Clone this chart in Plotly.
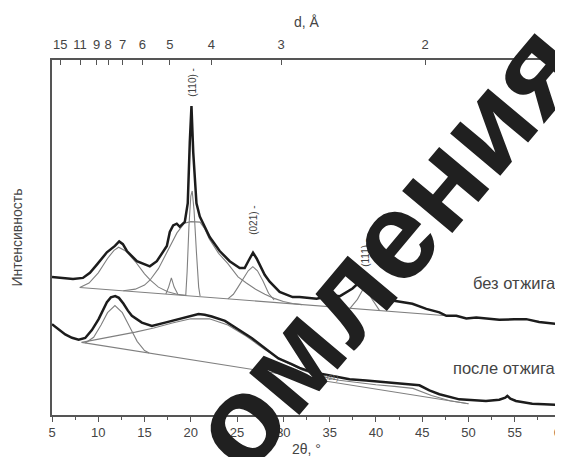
import math
import plotly.graph_objects as go

# ---------------- data (2θ in degrees, intensity in arbitrary units) ----------------
# measured pattern, sample without annealing ("без отжига")
theta_raw = [5.0, 5.86, 7.27, 8.34, 9.10, 9.85, 10.93, 11.80, 12.26, 12.66, 13.09, 14.17,
             15.25, 15.57, 16.33, 16.98, 17.41, 17.73, 18.09, 18.48, 18.81, 19.35, 19.67,
             19.89, 20.07, 20.26, 20.61, 20.97, 21.32, 22.04, 23.12, 24.20, 25.28, 25.82,
             26.25, 26.72, 27.11, 27.44, 27.98, 28.52, 29.60, 31.0, 31.75, 33.59, 35.31,
             36.07, 37.47, 38.23, 38.77, 39.20, 39.63, 40.71, 41.79, 43.94, 45.45, 46.86,
             47.61, 48.69, 49.77, 50.85, 53.33, 54.95, 56.24, 57.64, 58.72, 59.80]
int_raw = [135, 134, 133, 134, 139, 147, 159, 165.3, 169.7, 167, 160.3, 150.3,
           146.3, 145.3, 150.3, 159, 165.3, 179, 185.3, 187, 184, 188.7, 207,
           267, 302, 257, 207, 194, 187, 174, 160.3, 150.3, 143.7, 143.7,
           151, 158.7, 153, 147, 137, 130.3, 120.3, 115.3, 115.3, 113.7, 117,
           116, 123.7, 130, 133.7, 127, 122, 115.3, 112, 108.7, 103.7, 100.3,
           97, 97, 94.3, 95.3, 93, 93.5, 93.7, 91, 90, 88.7]

# measured pattern, sample after annealing ("после отжига")
theta_ann = [5.0, 5.65, 6.43, 7.16, 7.88, 8.59, 9.31, 10.04, 10.50, 10.93, 11.36, 11.83,
             12.23, 12.73, 13.20, 13.63, 14.71, 15.79, 17.22, 18.67, 20.10, 20.83, 21.50,
             22.26, 23.69, 25.14, 26.57, 28.01, 29.46, 30.89, 31.75, 33.05, 35.31, 37.15,
             38.95, 40.92, 42.54, 44.70, 45.78, 46.86, 49.01, 51.89, 53.33, 53.98, 54.20,
             54.53, 55.13, 56.89, 58.18, 59.80]
int_ann = [88.7, 84, 78.7, 75.5, 73.7, 75.3, 83, 93.7, 103, 110.3, 115, 116.3,
           114.5, 108.7, 102, 97, 90.3, 87, 90.3, 93.7, 97, 98.7, 98,
           96.3, 92, 83.7, 75.3, 65.3, 55.3, 49.7, 46, 42, 38, 35,
           33.7, 32, 31, 29, 24, 20.3, 15.3, 13.7, 15, 17, 18.7,
           16, 13.7, 11, 10.5, 10]

# fitted components, sample without annealing
base_raw_theta = [8.0, 48.0]
base_raw_int = [124.7, 96.7]
peak_a_theta = [8.0, 9.0, 10.0, 11.0, 11.7, 12.2, 13.0, 14.0, 15.0, 15.6, 16.5, 17.5, 18.5, 19.5]
peak_a_int = [124.7, 129, 139, 153, 161, 164, 160, 150, 138, 132, 125, 120.5, 118, 116.9]
halo_b_theta = [12.7, 14.0, 15.0, 15.6, 16.5, 17.5, 18.5, 19.3, 20.0, 21.0, 21.5, 22.0, 23.0,
                24.0, 25.1, 26.0, 27.0, 28.0, 29.0, 30.0, 31.0, 32.0]
halo_b_int = [121.4, 123, 127, 132, 143, 160, 178, 187.5, 189, 188.5, 182, 172, 158,
              148, 135, 129, 123, 118, 114, 111, 109, 107.9]
peak_c_theta = [24.0, 24.6, 25.1, 25.7, 26.2, 26.7, 27.2, 27.8, 28.4, 29.0]
peak_c_int = [113.5, 118, 125, 134, 141, 145, 141, 131, 119, 112.4]
peak_d_theta = [17.3, 17.6, 17.9, 18.2, 18.6]
peak_d_int = [118.3, 125, 134, 125, 118]
peak_e_theta = [19.45, 19.6, 19.8, 20.0, 20.15, 20.35, 20.6, 20.85, 21.0]
peak_e_int = [116.5, 140, 185, 214, 219, 200, 160, 125, 116.3]
peak_f_theta = [37.2, 38.0, 38.8, 39.6, 40.4]
peak_f_int = [104.3, 113, 126, 113, 102]

# fitted components, sample after annealing
base_ann_theta = [8.2, 50.0]
base_ann_int = [71, 11]
peak_g_theta = [8.6, 9.5, 10.3, 11.0, 11.8, 12.6, 13.4, 14.2, 15.0, 15.5]
peak_g_int = [70.4, 76, 88, 100, 107, 100, 86, 72, 63, 60.6]
halo_h_theta = [8.2, 10, 12, 14, 16, 18, 20, 22, 24, 26, 28, 30, 32, 34, 36, 38, 40, 42,
                44, 46, 48, 50]
halo_h_int = [71, 74, 77.5, 81, 85, 90, 94, 94, 88, 77, 64, 53, 44, 38, 34, 31.5, 29.5, 28,
              26, 19, 14, 11]

# axes
x_ticks = [5, 10, 15, 20, 25, 30, 35, 40, 45, 50, 55, 60]
d_labels = [15, 11, 9, 8, 7, 6, 5, 4, 3, 2]
wavelength = 1.5406  # Cu K-alpha, Å
d_tickvals = [2 * math.degrees(math.asin(wavelength / (2 * d))) for d in d_labels]

# ---------------- figure ----------------
FONT = "Liberation Sans, Arial, sans-serif"
COMP = "#808080"
DATA = "#1c1c1c"
AX = "#555555"

fig = go.Figure()


def add_line(x, y, color, width, xaxis="x"):
    fig.add_trace(go.Scatter(x=x, y=y, mode="lines", xaxis=xaxis,
                             line=dict(color=color, width=width),
                             showlegend=False, hoverinfo="skip"))


for tx, iy in [(base_raw_theta, base_raw_int), (peak_a_theta, peak_a_int),
               (halo_b_theta, halo_b_int), (peak_c_theta, peak_c_int),
               (peak_d_theta, peak_d_int), (peak_e_theta, peak_e_int),
               (peak_f_theta, peak_f_int), (base_ann_theta, base_ann_int),
               (peak_g_theta, peak_g_int), (halo_h_theta, halo_h_int)]:
    add_line(tx, iy, COMP, 1.1)

add_line(theta_raw, int_raw, DATA, 2.5)
add_line(theta_ann, int_ann, DATA, 2.5)

# invisible trace to activate the top axis
fig.add_trace(go.Scatter(x=[5, 60], y=[None, None], xaxis="x2", mode="lines",
                         showlegend=False, hoverinfo="skip"))

# the page body has an 8px margin, so the figure is sized/offset to compensate
fig.update_layout(
    width=555, height=449,
    margin=dict(l=44, r=2, t=52, b=42, autoexpand=False),
    paper_bgcolor="white", plot_bgcolor="white",
    font=dict(family=FONT, color="#444444", size=13),
    xaxis=dict(range=[5, 60], tickvals=x_ticks, ticks="outside", ticklen=5,
               tickwidth=1.2, tickcolor=AX, showline=True, linecolor=AX, linewidth=1.5,
               showgrid=False, zeroline=False, ticklabeloverflow="allow", automargin=False,
               minor=dict(dtick=2.5, tick0=5, ticks="outside", ticklen=3, tickcolor=AX),
               title=dict(text="2θ, °", font=dict(size=14), standoff=8),
               tickfont=dict(size=13)),
    xaxis2=dict(range=[5, 60], overlaying="x", side="top", tickvals=d_tickvals,
                ticktext=[str(d) for d in d_labels], ticks="inside", ticklen=5,
                tickwidth=1.2, tickcolor=AX, showline=True, linecolor=AX, linewidth=1.5,
                showgrid=False, zeroline=False, ticklabelstandoff=4, automargin=False,
                title=dict(text="d, Å", font=dict(size=14), standoff=6),
                tickfont=dict(size=13)),
    yaxis=dict(range=[0, 347], showticklabels=False, ticks="", showline=True,
               mirror=True, linecolor=AX, linewidth=1.5, showgrid=False, zeroline=False,
               automargin=False,
               title=dict(text="Интенсивность", font=dict(size=14), standoff=24)),
)

ann = [
    dict(x=20.16, y=325, text="(110) -", textangle=-90, font=dict(size=10)),
    dict(x=26.74, y=190, text="(021) -", textangle=-90, font=dict(size=10)),
    dict(x=38.87, y=159, text="(111) -", textangle=-90, font=dict(size=10)),
    dict(x=35.0, y=36, text="(021)", font=dict(size=7, color="#666666")),
    dict(x=59.65, y=129.5, text="без отжига", xanchor="right", font=dict(size=16.5)),
    dict(x=59.65, y=45.5, text="после отжига", xanchor="right", font=dict(size=16.5)),
]
for a in ann:
    a.setdefault("xanchor", "center")
    fig.add_annotation(xref="x", yref="y", showarrow=False, yanchor="middle", **a)

# diagonal watermark over the figure
fig.add_annotation(xref="paper", yref="paper", x=0.655, y=0.475, xanchor="center",
                   yanchor="middle", showarrow=False, textangle=-50,
                   text="<b>омления</b>",
                   font=dict(family=FONT, size=124, color="#202020"))

fig.write_html("out.html")
